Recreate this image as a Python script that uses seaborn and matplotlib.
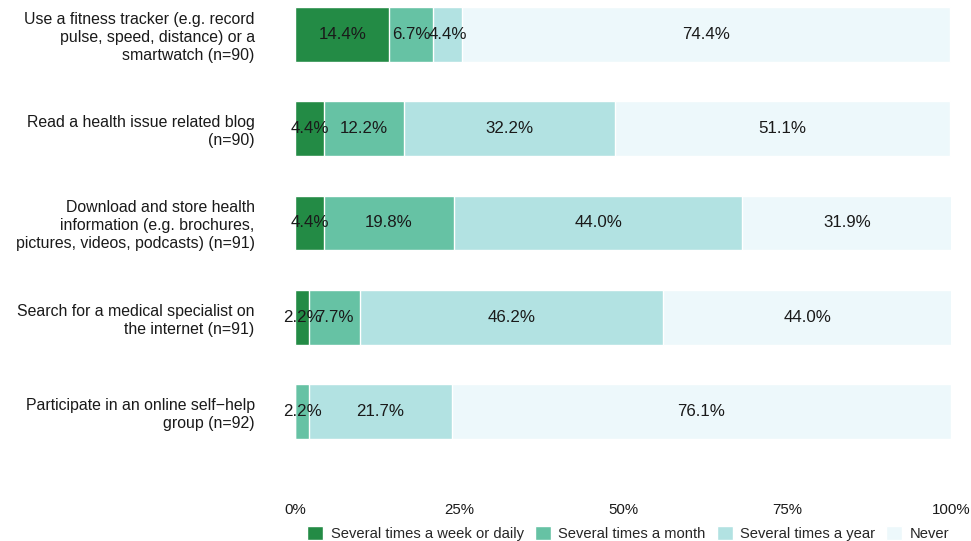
import numpy as np
import pandas as pd
import matplotlib
matplotlib.use("Agg")
import matplotlib.pyplot as plt
import seaborn as sns

# Survey items (y categories)
items = [
    "Use a fitness tracker (e.g. record\npulse, speed, distance) or a\nsmartwatch (n=90)",
    "Read a health issue related blog\n(n=90)",
    "Download and store health\ninformation (e.g. brochures,\npictures, videos, podcasts) (n=91)",
    "Search for a medical specialist on\nthe internet (n=91)",
    "Participate in an online self\u2212help\ngroup (n=92)",
]

# Answer categories, in stacking order
answers = ["Several times a week or daily", "Several times a month",
           "Several times a year", "Never"]
colors = ["#238b45", "#66c2a4", "#b2e2e2", "#edf8fb"]

# Percentages per answer
week_daily = [14.4, 4.4, 4.4, 2.2, 0.0]
month = [6.7, 12.2, 19.8, 7.7, 2.2]
year = [4.4, 32.2, 44.0, 46.2, 21.7]
never = [74.4, 51.1, 31.9, 44.0, 76.1]

df = pd.DataFrame({"item": items, answers[0]: week_daily, answers[1]: month,
                   answers[2]: year, answers[3]: never})
cum = df[answers].cumsum(axis=1)

sns.set_style("white")
plt.rcParams["font.family"] = ["Liberation Sans", "DejaVu Sans"]

fig = plt.figure(figsize=(9.71, 5.41), dpi=100)
ax = fig.add_axes([295 / 971, 1 - 490 / 541, 656 / 971, 490 / 541])

# draw cumulative bars from the widest down so they look stacked
for ans, col in reversed(list(zip(answers, colors))):
    sns.barplot(x=cum[ans], y=df["item"], color=col, orient="h", width=0.58,
                saturation=1, edgecolor="white", linewidth=1, label=ans, ax=ax)

# percentage labels in the middle of each segment
for i in range(len(items)):
    left = 0
    for ans in answers:
        v = df.loc[i, ans]
        if v > 0:
            ax.text(left + v / 2, i, f"{v:.1f}%", ha="center", va="center",
                    fontsize=12.2, color="#1a1a1a")
        left += v

ax.set_xlim(0, 100)
ax.set_ylim(4.833, -0.366)
ax.set_xticks([0, 25, 50, 75, 100])
ax.set_xticklabels(["0%", "25%", "50%", "75%", "100%"])
ax.tick_params(axis="x", length=0, pad=9, labelsize=10.8, colors="#1a1a1a")
ax.tick_params(axis="y", length=0, pad=29, labelsize=11.4, colors="#1a1a1a")
for t in ax.get_yticklabels():
    t.set_linespacing(1.25)
ax.set_xlabel("")
ax.set_ylabel("")
sns.despine(ax=ax, left=True, bottom=True)

handles, labels = ax.get_legend_handles_labels()
ax.legend(handles[::-1], labels[::-1], loc="center", bbox_to_anchor=(0.508, -0.088),
          ncol=4, frameon=False, fontsize=10.6, handlelength=1.1, handleheight=1.1,
          handletextpad=0.5, columnspacing=0.75, borderaxespad=0)

fig.savefig("out.png", dpi=100)
